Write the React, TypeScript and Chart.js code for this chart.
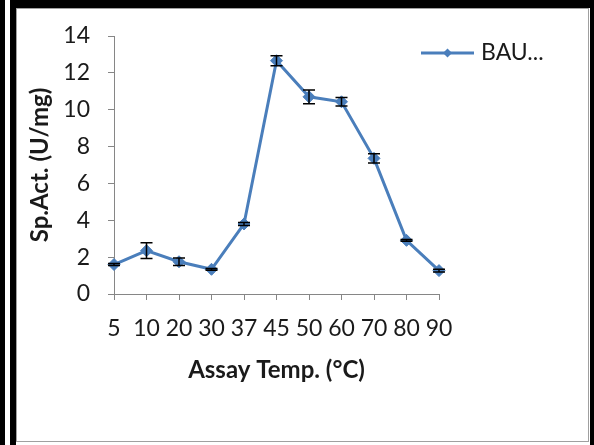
import React, { useEffect, useRef } from "react";
import { Chart, registerables } from "chart.js";

Chart.register(...registerables);

// Assay temperatures (°C) and specific activity (U/mg) with standard error
const temperatures = ["5", "10", "20", "30", "37", "45", "50", "60", "70", "80", "90"];
const activity = [1.6, 2.35, 1.75, 1.34, 3.8, 12.66, 10.7, 10.43, 7.36, 2.91, 1.27];
const activityError = [0.06, 0.43, 0.2, 0.05, 0.08, 0.27, 0.37, 0.23, 0.25, 0.05, 0.07];
const seriesName = "BAU...";
const yMin = 0;
const yMax = 14;
const yStep = 2;

const BLUE = "#4a7ebb";
const TEXT = "#1a1a1a";
const AXIS = "#868686";

const errorBarsPlugin = {
  id: "errorBars",
  afterDatasetsDraw(chart: any) {
    const { ctx, scales } = chart;
    const xs = scales.x;
    const ys = scales.y;
    ctx.save();
    ctx.strokeStyle = "#000";
    ctx.lineWidth = 1.5;
    activity.forEach((v, i) => {
      const e = activityError[i];
      const x = xs.getPixelForValue(i);
      const top = ys.getPixelForValue(v + e);
      const bot = ys.getPixelForValue(v - e);
      ctx.beginPath();
      ctx.moveTo(x, top);
      ctx.lineTo(x, bot);
      ctx.moveTo(x - 6, top);
      ctx.lineTo(x + 6, top);
      ctx.moveTo(x - 6, bot);
      ctx.lineTo(x + 6, bot);
      ctx.stroke();
    });
    ctx.restore();
  },
};

const legendPlugin = {
  id: "lineLegend",
  afterDraw(chart: any) {
    const { ctx } = chart;
    const y = 53;
    ctx.save();
    ctx.strokeStyle = BLUE;
    ctx.lineWidth = 3;
    ctx.beginPath();
    ctx.moveTo(421, y);
    ctx.lineTo(474, y);
    ctx.stroke();
    ctx.fillStyle = BLUE;
    ctx.beginPath();
    const cx = 447.5;
    const r = 4.5;
    ctx.moveTo(cx, y - r);
    ctx.lineTo(cx + r, y);
    ctx.lineTo(cx, y + r);
    ctx.lineTo(cx - r, y);
    ctx.closePath();
    ctx.fill();
    ctx.fillStyle = TEXT;
    ctx.font = "23px Lato";
    ctx.textBaseline = "middle";
    ctx.textAlign = "left";
    ctx.fillText(seriesName, 481, y);
    ctx.restore();
  },
};

function ActivityChart() {
  const ref = useRef<HTMLCanvasElement | null>(null);

  useEffect(() => {
    if (!ref.current) return;
    const chart = new Chart(ref.current, {
      type: "line",
      data: {
        labels: temperatures,
        datasets: [
          {
            label: seriesName,
            data: activity,
            borderColor: BLUE,
            backgroundColor: BLUE,
            borderWidth: 3,
            tension: 0,
            pointStyle: "rectRot",
            pointRadius: 6,
            pointBackgroundColor: BLUE,
            pointBorderColor: BLUE,
            pointBorderWidth: 1,
          },
        ],
      },
      options: {
        responsive: false,
        animation: false,
        events: [],
        layout: { padding: { left: 0, top: 36, right: 155, bottom: 0 } },
        plugins: {
          legend: { display: false },
          tooltip: { enabled: false },
        },
        scales: {
          x: {
            type: "category",
            offset: false,
            afterFit(scale: any) {
              scale.height = 151;
            },
            grid: {
              drawOnChartArea: false,
              drawTicks: true,
              tickLength: 6,
              color: AXIS,
              lineWidth: 1,
            },
            border: { display: true, color: AXIS, width: 1 },
            ticks: {
              color: TEXT,
              font: { family: "Lato", size: 23 },
              padding: 15,
              maxRotation: 0,
              autoSkip: false,
            },
            title: {
              display: true,
              text: "Assay Temp. (°C)",
              color: TEXT,
              font: { family: "Lato", size: 24, weight: "bold" },
              padding: { top: 0, bottom: 60 },
            },
          },
          y: {
            min: yMin,
            max: yMax,
            afterFit(scale: any) {
              scale.width = 114;
            },
            grid: {
              drawOnChartArea: false,
              drawTicks: true,
              tickLength: 6,
              color: AXIS,
              lineWidth: 1,
            },
            border: { display: true, color: AXIS, width: 1 },
            ticks: {
              stepSize: yStep,
              color: TEXT,
              font: { family: "Lato", size: 23 },
              padding: 18,
            },
            title: {
              display: true,
              text: "Sp.Act. (U/mg)",
              color: TEXT,
              font: { family: "Lato", size: 24, weight: "bold" },
              padding: { top: 26, bottom: 0 },
            },
          },
        },
      },
      plugins: [errorBarsPlugin, legendPlugin],
    });
    return () => chart.destroy();
  }, []);

  return (
    <canvas
      ref={ref}
      width={594}
      height={445}
      style={{ position: "absolute", left: 0, top: 0, width: 594, height: 445 }}
    />
  );
}

export default function App() {
  return (
    <div
      style={{
        position: "fixed",
        left: 0,
        top: 0,
        width: 594,
        height: 445,
        background: "#fff",
        overflow: "hidden",
      }}
    >
      {/* frame */}
      <div style={{ position: "absolute", left: 0, top: 0, width: 5, height: 445, background: "#000" }} />
      <div style={{ position: "absolute", left: 10, top: 0, width: 6, height: 445, background: "#000" }} />
      <div style={{ position: "absolute", left: 10, top: 0, width: 584, height: 8, background: "#000" }} />
      <div style={{ position: "absolute", left: 590, top: 0, width: 4, height: 445, background: "#000" }} />
      <div
        style={{
          position: "absolute",
          left: 16,
          top: 8,
          width: 573,
          height: 434,
          border: "1px solid #a0a0a0",
          boxSizing: "border-box",
          background: "#fff",
        }}
      />
      <ActivityChart />
    </div>
  );
}
